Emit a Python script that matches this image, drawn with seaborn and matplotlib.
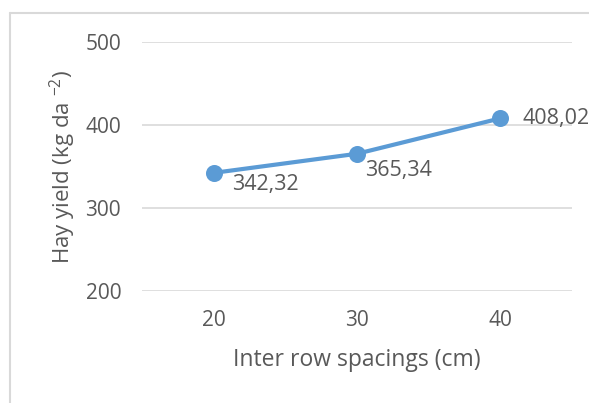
import matplotlib
matplotlib.use("Agg")
import matplotlib.pyplot as plt
from matplotlib.lines import Line2D
import seaborn as sns
import pandas as pd

# Data
spacings = ["20", "30", "40"]
hay_yield = [342.32, 365.34, 408.02]
value_labels = ["342,32", "365,34", "408,02"]
y_ticks = [200, 300, 400, 500]

sns.set_theme(style="white")
plt.rcParams["font.family"] = ["Open Sans", "DejaVu Sans"]
plt.rcParams["mathtext.fontset"] = "custom"
plt.rcParams["mathtext.rm"] = "Open Sans"

text_color = "#595959"
line_color = "#5B9BD5"
grid_color = "#D9D9D9"

df = pd.DataFrame({"spacing": spacings, "yield": hay_yield})

W, H = 589, 403
fig = plt.figure(figsize=(W / 100, H / 100), dpi=100)
ax = fig.add_axes([142 / W, 1 - 291 / H, (572 - 142) / W, (291 - 42) / H])

sns.pointplot(data=df, x="spacing", y="yield", color=line_color,
              markers="o", markersize=10, linewidth=3, ax=ax)

ax.set_ylim(200, 500)
ax.set_xlim(-0.5, 2.5)
ax.set_yticks(y_ticks)
ax.yaxis.grid(True, color=grid_color, linewidth=1.2)
ax.set_axisbelow(True)
for s in ax.spines.values():
    s.set_visible(False)
ax.tick_params(axis="both", length=0, colors=text_color, labelsize=15)
ax.tick_params(axis="y", pad=15)
ax.tick_params(axis="x", pad=14)

ax.set_xlabel("Inter row spacings (cm)", color=text_color, fontsize=16.5, labelpad=12)
ax.set_ylabel(r"Hay yield (kg da $\mathregular{^{-2}}$)", color=text_color,
              fontsize=16, labelpad=5)

# Data labels
offsets = [(13, -8.6), (6, -12.2), (15.8, 0)]
for i, (v, lab, off) in enumerate(zip(hay_yield, value_labels, offsets)):
    ax.annotate(lab, (i, v), xytext=off, textcoords="offset points",
                ha="left", va="center", color=text_color, fontsize=15.5,
                annotation_clip=False)

# Chart frame
fig.add_artist(Line2D([10 / W, 10 / W], [0, 1 - 13 / H], color=grid_color,
                      linewidth=1.5, transform=fig.transFigure))
fig.add_artist(Line2D([10 / W, 1], [1 - 13 / H, 1 - 13 / H], color=grid_color,
                      linewidth=1.5, transform=fig.transFigure))

fig.savefig("out.png", dpi=100, facecolor="white")
